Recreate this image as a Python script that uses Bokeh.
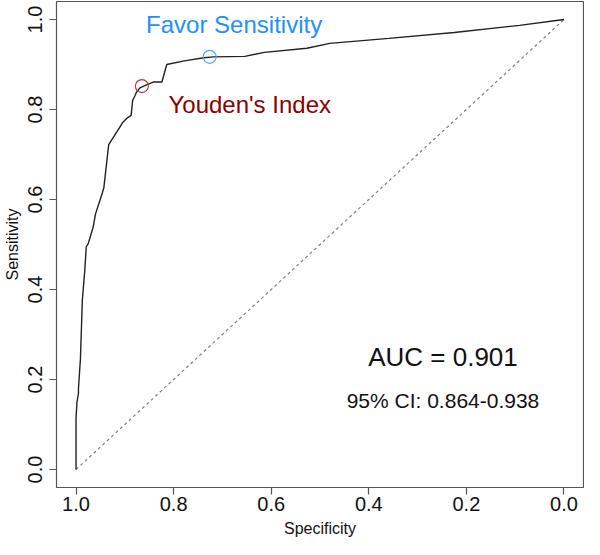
from bokeh.plotting import figure
from bokeh.models import Range1d, FixedTicker, PrintfTickFormatter
from bokeh.embed import file_html
from bokeh.resources import INLINE
from bokeh.core.properties import value

# ROC curve (specificity, sensitivity)
specificity = [1.000, 1.000, 0.998, 0.995, 0.995, 0.991, 0.987, 0.982, 0.979, 0.975,
               0.970, 0.965, 0.960, 0.946, 0.943, 0.933, 0.903, 0.894, 0.887, 0.884,
               0.879, 0.876, 0.869, 0.859, 0.842, 0.824, 0.814, 0.778, 0.738, 0.718,
               0.654, 0.614, 0.527, 0.480, 0.359, 0.225, 0.091, 0.000]
sensitivity = [0.000, 0.114, 0.150, 0.169, 0.180, 0.245, 0.377, 0.443, 0.495, 0.502,
               0.520, 0.538, 0.568, 0.615, 0.626, 0.722, 0.773, 0.782, 0.787, 0.820,
               0.831, 0.839, 0.848, 0.853, 0.861, 0.861, 0.900, 0.908, 0.915, 0.917,
               0.918, 0.927, 0.936, 0.947, 0.958, 0.971, 0.987, 1.000]

diag_x = [1.0, 0.0]
diag_y = [0.0, 1.0]

youden_pt = (0.865, 0.852)
favor_pt = (0.726, 0.917)

tick_values = [0.0, 0.2, 0.4, 0.6, 0.8, 1.0]
auc_text = "AUC = 0.901"
ci_text = "95% CI: 0.864-0.938"

FONT = "Liberation Sans"

p = figure(width=584, height=539, output_backend="svg", toolbar_location=None,
           x_range=Range1d(1.04, -0.04), y_range=Range1d(-0.04, 1.04),
           min_border_left=54, min_border_right=1, min_border_top=1, min_border_bottom=50)

p.grid.visible = False
p.background_fill_color = "white"
p.border_fill_color = "white"
p.outline_line_color = "#555555"
p.outline_line_width = 1.2

for ax in (p.xaxis[0], p.yaxis[0]):
    ax.ticker = FixedTicker(ticks=tick_values)
    ax.formatter = PrintfTickFormatter(format="%.1f")
    ax.axis_line_color = None
    ax.major_tick_line_color = "#555555"
    ax.major_tick_line_width = 1.2
    ax.major_tick_out = 7
    ax.major_tick_in = 0
    ax.minor_tick_line_color = None
    ax.major_label_text_font = FONT
    ax.major_label_text_font_size = "20px"
    ax.major_label_text_color = "#111111"
    ax.axis_label_text_font = FONT
    ax.axis_label_text_font_size = "16px"
    ax.axis_label_text_font_style = "normal"
    ax.axis_label_text_color = "#111111"

p.xaxis.axis_label = "Specificity"
p.yaxis.axis_label = "Sensitivity"
p.xaxis.major_label_standoff = 2
p.xaxis.axis_label_standoff = 6
p.yaxis.major_label_orientation = "vertical"
p.yaxis.major_label_standoff = 8
p.yaxis.axis_label_standoff = 4

# chance diagonal
p.line(diag_x, diag_y, line_color="#808080", line_width=1.2, line_dash="3 3")

# ROC curve
p.line(specificity, sensitivity, line_color="#222222", line_width=1.4)

# threshold points
p.scatter([youden_pt[0]], [youden_pt[1]], marker="circle", size=13,
          fill_color=None, line_color="#b03a2e", line_width=1.1)
p.scatter([favor_pt[0]], [favor_pt[1]], marker="circle", size=13,
          fill_color=None, line_color="#4aa3ff", line_width=1.1)

p.text([0.676], [0.990], text=["Favor Sensitivity"], text_font=value(FONT),
       text_font_size="24px", text_color="#1e90ff", text_align="center",
       text_baseline="middle")
p.text([0.644], [0.811], text=["Youden's Index"], text_font=value(FONT),
       text_font_size="24px", text_color="#8b0000", text_align="center",
       text_baseline="middle")

p.text([0.248], [0.249], text=[auc_text], text_font=value(FONT),
       text_font_size="26px", text_color="#111111", text_align="center",
       text_baseline="middle")
p.text([0.248], [0.153], text=[ci_text], text_font=value(FONT),
       text_font_size="21px", text_color="#111111", text_align="center",
       text_baseline="middle")

open("out.html", "w").write(file_html(p, INLINE))
